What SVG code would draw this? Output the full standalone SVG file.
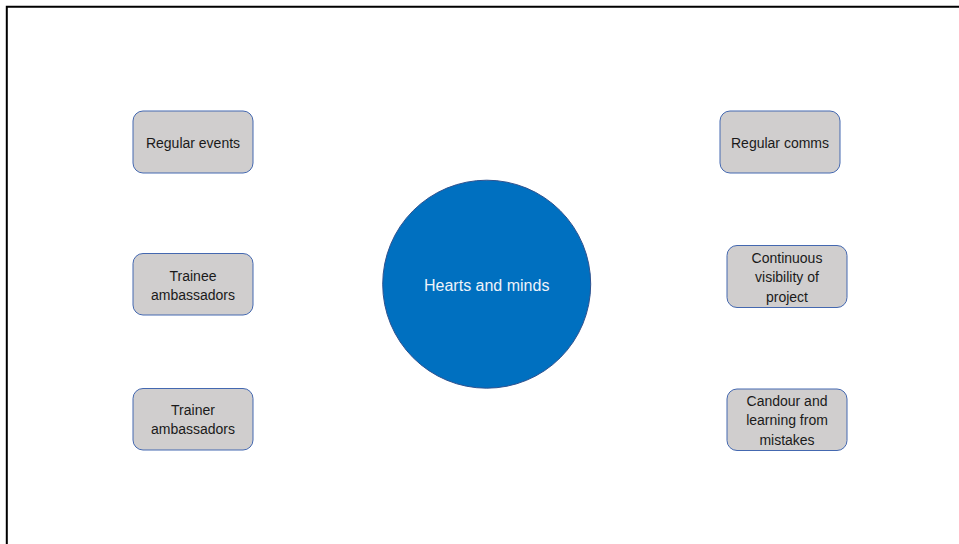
<svg xmlns="http://www.w3.org/2000/svg" width="959" height="544" viewBox="0 0 959 544">
  <style>
    .box { fill: #D0CECE; stroke: #4468B0; stroke-width: 1; }
    .lbl { font-family: "Liberation Sans", Arial, sans-serif; font-size: 14px; fill: #1a1a1a; text-anchor: middle; }
    .hub { fill: #0070C0; stroke: #2F528F; stroke-width: 1; }
    .hubtxt { font-family: "Liberation Sans", Arial, sans-serif; font-size: 16px; fill: #EEF3FA; text-anchor: middle; }
  </style>
  <rect width="959" height="544" fill="#ffffff"/>
  <!-- frame: top and left edges only -->
  <path d="M6.8 544 V6.8 H959" fill="none" stroke="#000000" stroke-width="2"/>
  <g id="connectors"></g>

  <g id="hearts-and-minds">
    <circle class="hub" cx="486.7" cy="284.2" r="104"/>
    <text class="hubtxt" x="486.7" y="290.5">Hearts and minds</text>
  </g>

  <g id="regular-events">
    <rect class="box" x="133" y="111" width="120" height="62" rx="10"/>
    <text class="lbl" x="193" y="147.5">Regular events</text>
  </g>
  <g id="trainee-ambassadors">
    <rect class="box" x="133" y="253.5" width="120" height="61.5" rx="10"/>
    <text class="lbl" x="193" y="280.5">Trainee</text>
    <text class="lbl" x="193" y="299.5">ambassadors</text>
  </g>
  <g id="trainer-ambassadors">
    <rect class="box" x="133" y="388.5" width="120" height="61.5" rx="10"/>
    <text class="lbl" x="193" y="414.5">Trainer</text>
    <text class="lbl" x="193" y="433.5">ambassadors</text>
  </g>

  <g id="regular-comms">
    <rect class="box" x="720" y="111" width="120" height="62" rx="10"/>
    <text class="lbl" x="780" y="147.5">Regular comms</text>
  </g>
  <g id="continuous-visibility">
    <rect class="box" x="727" y="245.5" width="120" height="62" rx="10"/>
    <text class="lbl" x="787" y="262.5">Continuous</text>
    <text class="lbl" x="787" y="282">visibility of</text>
    <text class="lbl" x="787" y="301.5">project</text>
  </g>
  <g id="candour-and-learning">
    <rect class="box" x="727" y="389" width="120" height="61.5" rx="10"/>
    <text class="lbl" x="787" y="405.5">Candour and</text>
    <text class="lbl" x="787" y="425">learning from</text>
    <text class="lbl" x="787" y="444.5">mistakes</text>
  </g>
</svg>
